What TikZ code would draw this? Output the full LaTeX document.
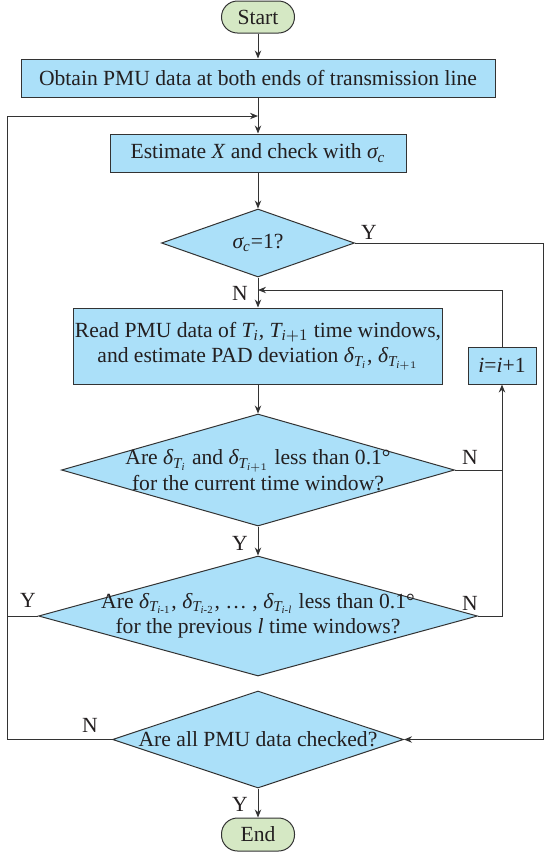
\documentclass[tikz,border=0pt]{standalone}
\usepackage{fontspec}
\usepackage{amsmath}
\setmainfont{Liberation Serif}
\usetikzlibrary{shapes.geometric,arrows.meta}
\definecolor{bfill}{HTML}{ABE0F9}
\definecolor{gfill}{HTML}{D5E8C4}
\definecolor{lc}{HTML}{333333}
\definecolor{txt}{HTML}{231F20}
\begin{document}
\begin{tikzpicture}[x=0.5pt,y=-0.5pt,
  font=\fontsize{10.8}{12.6}\selectfont,
  line width=0.5pt,
  proc/.style={draw=lc,fill=bfill,inner sep=0pt,align=center,text=txt},
  term/.style={draw=lc,fill=gfill,rounded corners=8pt,inner sep=0pt,text=txt},
  dec/.style={draw=lc,fill=bfill,diamond,inner sep=0pt},
  dtext/.style={inner sep=0pt,align=center,text=txt},
  arr/.style={draw=lc,-{Stealth[length=4pt,width=3.2pt]}},
  lin/.style={draw=lc},
  lab/.style={inner sep=0pt,text=txt}]
\useasboundingbox (0,0) rectangle (544,853);

\coordinate (xL) at (7,0);
\coordinate (xM) at (502,0);
\coordinate (xR) at (543,0);
\coordinate (j1) at (258,116);
\coordinate (j2) at (258,290);

\node[term, minimum width=36.5pt, minimum height=16pt] (start) at (258,17) {Start};
\node[proc, minimum width=237pt, minimum height=19pt] (obtain) at (258,78) {Obtain PMU data at both ends of transmission line};
\node[proc, minimum width=148pt, minimum height=19pt] (est) at (258,153) {Estimate \textit{X} and check with $\textit{σ}_{\textit{c}}$};
\node[dec, minimum width=96.5pt, minimum height=34pt] (d1) at (258,243) {};
\node[dtext] (d1t) at (d1) {$\textit{σ}_{\textit{c}}$=1?};
\node[proc, minimum width=184.5pt, minimum height=38pt] (read) at (258,346) {Read PMU data of $\textit{T}_{\textit{i}}$, $\textit{T}_{\textit{i}+1}$ time windows,\\ and estimate PAD deviation $\textit{δ}_{\textit{T}_{\textit{i}}}$, $\textit{δ}_{\textit{T}_{\textit{i}+1}}$};
\node[proc, minimum width=34pt, minimum height=18.5pt] (inc) at (502,365.5) {\textit{i}=\textit{i}+1};
\node[dec, minimum width=196.5pt, minimum height=56pt] (d2) at (258,470) {};
\node[dtext] (d2t) at (d2) {Are $\textit{δ}_{\textit{T}_{\textit{i}}}$ and $\textit{δ}_{\textit{T}_{\textit{i}+1}}$ less than 0.1°\\for the current time window?};
\node[dec, minimum width=219.5pt, minimum height=60pt] (d3) at (258,616) {};
\node[dtext] (d3t) at (d3) {Are $\textit{δ}_{\textit{T}_{\textit{i}\text{-1}}}$, $\textit{δ}_{\textit{T}_{\textit{i}\text{-2}}}$, … , $\textit{δ}_{\textit{T}_{\textit{i}\text{-}\textit{l}}}$ less than 0.1°\\for the previous \textit{l} time windows?};
\node[dec, minimum width=145.5pt, minimum height=48.5pt] (d4) at (258,739.5) {};
\node[dtext] (d4t) at (d4) {Are all PMU data checked?};
\node[term, minimum width=36.5pt, minimum height=16.5pt] (end) at (258,834.5) {End};

\draw[arr] (start) -- (obtain);
\draw[arr] (obtain) -- (est);
\draw[arr] (est) -- (d1);
\draw[arr] (d1) -- (read);
\draw[arr] (read) -- (d2);
\draw[arr] (d2) -- (d3);
\draw[arr] (d4) -- (end);

\draw[arr] (d1.east) -- (d1.east -| xR) -- (d4.east -| xR) -- (d4.east);
\draw[arr] (d2.east) -- (d2.east -| xM) -- (inc.south);
\draw[lin] (d3.east) -- (d3.east -| xM) -- (d2.east -| xM);
\draw[arr] (inc.north) -- (inc.north |- j2) -- (j2);
\draw[arr] (d3.west) -- (d3.west -| xL) -- (j1 -| xL) -- (j1);
\draw[lin] (d4.west) -- (d4.west -| xL) -- (d3.west -| xL);

\node[lab] (l1) at (369,232) {Y};
\node[lab] (l2) at (240,293) {N};
\node[lab] (l3) at (470,457) {N};
\node[lab] (l4) at (240,543) {Y};
\node[lab] (l5) at (28,600) {Y};
\node[lab] (l6) at (470,603) {N};
\node[lab] (l7) at (90,725) {N};
\node[lab] (l8) at (240,804) {Y};
\end{tikzpicture}
\end{document}
